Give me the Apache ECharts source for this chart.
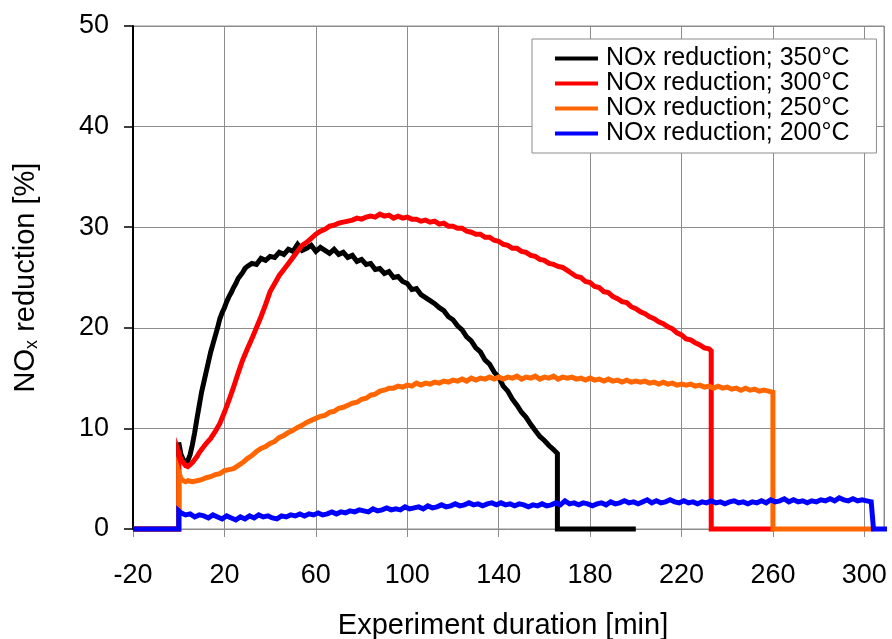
<!DOCTYPE html>
<html>
<head>
<meta charset="utf-8">
<title>NOx reduction vs. experiment duration</title>
<script src="https://cdn.jsdelivr.net/npm/echarts@6/dist/echarts.min.js"></script>
<style>
  html, body { margin: 0; padding: 0; background: #ffffff; }
  #chart { width: 892px; height: 639px; }
</style>
</head>
<body>
<div id="chart"></div>
<script>
// Measured NOx reduction [%] over experiment duration [min], one trace per temperature.
const seriesNames = ['NOx reduction; 350°C', 'NOx reduction; 300°C', 'NOx reduction; 250°C', 'NOx reduction; 200°C'];
const seriesColors = ['#000000', '#ff0000', '#ff6600', '#0000ff'];

const nox350 = [
  [-20,0],[0,0],[0,8.6],[1,7.4],[2,6.9],[3,6.6],[4,6.8],[5,7.4],[6,8.4],[7,9.6],[8,11.0],[9,12.3],
  [10,13.6],[11,14.6],[12,15.6],[13,16.6],[14,17.6],[15,18.4],[16,19.2],[17,20.0],[18,20.9],[19,21.5],
  [20,22.0],[21,22.6],[22,23.1],[23,23.5],[24,24.0],[25,24.4],[26,24.9],[27,25.2],[28,25.5],[29,25.9],
  [30,26.1],[32,26.4],[34,26.3],[36,26.9],[38,26.7],[40,27.1],[42,27.0],[44,27.5],[46,27.3],[48,27.8],
  [50,27.6],[52,28.3],[54,27.7],[56,27.9],[58,28.2],[60,27.6],[62,28.0],[64,27.7],[66,27.4],[68,27.8],
  [70,27.3],[72,27.5],[74,27.0],[76,27.2],[78,26.6],[80,26.8],[82,26.3],[84,26.4],[86,25.8],[88,25.9],
  [90,25.4],[92,25.6],[94,25.0],[96,25.1],[98,24.6],[100,24.4],[102,23.8],[104,23.9],[106,23.3],[108,23.0],
  [110,22.7],[112,22.4],[114,22.0],[116,21.7],[118,21.1],[120,20.8],[122,20.2],[124,19.8],[126,19.1],
  [128,18.7],[130,18.0],[132,17.6],[134,16.8],[136,16.4],[138,15.6],[140,15.1],[142,14.2],[144,13.7],
  [146,12.9],[148,12.3],[150,11.6],[152,11.1],[154,10.4],[156,9.8],[158,9.2],[160,8.8],[162,8.3],
  [164,7.9],[165.7,7.5],[165.7,0],[200,0]
];

const nox300 = [
  [-20,0],[0,0],[0,7.6],[1,6.9],[2,6.6],[3,6.3],[4,6.2],[5,6.4],[6,6.6],[7,6.9],[8,7.2],[9,7.6],
  [10,7.9],[12,8.5],[14,9.0],[16,9.7],[18,10.5],[20,11.6],[22,12.8],[24,14.1],[26,15.5],[28,16.8],
  [30,17.9],[32,18.9],[34,20.0],[36,21.1],[38,22.3],[40,23.6],[42,24.4],[44,25.2],[46,25.8],[48,26.4],
  [50,27.0],[52,27.6],[54,28.2],[56,28.5],[58,28.9],[60,29.3],[62,29.6],[64,29.8],[66,30.1],[68,30.2],
  [70,30.4],[72,30.5],[74,30.6],[76,30.7],[78,30.9],[80,30.8],[82,31.0],[84,31.1],[86,31.0],[88,31.3],
  [90,31.1],[92,31.2],[94,30.9],[96,31.1],[98,30.9],[100,31.0],[102,30.8],[104,30.8],[106,30.6],[108,30.7],
  [110,30.5],[112,30.6],[114,30.3],[116,30.4],[118,30.1],[120,30.1],[122,29.9],[124,29.9],[126,29.6],
  [128,29.5],[130,29.3],[132,29.3],[134,29.0],[136,29.0],[138,28.7],[140,28.6],[142,28.3],[144,28.2],
  [146,27.9],[148,27.9],[150,27.6],[152,27.5],[154,27.2],[156,27.1],[158,26.8],[160,26.7],[162,26.4],
  [164,26.3],[166,26.1],[168,26.0],[170,25.7],[172,25.4],[174,25.1],[176,25.0],[178,24.6],[180,24.5],
  [182,24.1],[184,24.0],[186,23.6],[188,23.5],[190,23.1],[192,22.9],[194,22.6],[196,22.5],[198,22.1],
  [200,21.9],[202,21.6],[204,21.4],[206,21.1],[208,20.9],[210,20.6],[212,20.4],[214,20.1],[216,19.9],
  [218,19.5],[220,19.3],[222,18.9],[224,18.8],[226,18.5],[228,18.3],[230,18.0],[232,17.9],[233,17.7],
  [233,0],[260,0]
];

const nox250 = [
  [-20,0],[0,0],[0,5.7],[1,5.0],[2,4.8],[3,4.7],[4,4.8],[6,4.7],[8,4.8],[10,4.9],[12,5.1],[14,5.2],
  [16,5.4],[18,5.5],[20,5.8],[22,5.9],[24,6.0],[26,6.3],[28,6.6],[30,7.0],[32,7.3],[34,7.7],[36,8.0],
  [38,8.2],[40,8.5],[42,8.7],[44,9.1],[46,9.3],[48,9.6],[50,9.8],[52,10.1],[54,10.3],[56,10.6],[58,10.8],
  [60,11.0],[62,11.2],[64,11.3],[66,11.6],[68,11.7],[70,12.0],[72,12.1],[74,12.3],[76,12.5],[78,12.6],
  [80,12.9],[82,13.0],[84,13.3],[86,13.4],[88,13.7],[90,13.8],[92,14.0],[94,14.0],[96,14.2],[98,14.1],
  [100,14.3],[102,14.2],[104,14.5],[106,14.3],[108,14.5],[110,14.4],[112,14.6],[114,14.5],[116,14.7],
  [118,14.6],[120,14.8],[122,14.7],[124,14.9],[126,14.7],[128,15.0],[130,14.8],[132,15.0],[134,14.9],
  [136,15.1],[138,14.9],[140,15.1],[142,14.9],[144,15.1],[146,15.0],[148,15.2],[150,14.9],[152,15.1],
  [154,15.0],[156,15.2],[158,14.9],[160,15.1],[162,15.0],[164,15.2],[166,14.9],[168,15.1],[170,15.0],
  [172,15.1],[174,14.9],[176,15.0],[178,14.8],[180,15.0],[182,14.8],[184,14.9],[186,14.7],[188,14.9],
  [190,14.7],[192,14.8],[194,14.6],[196,14.8],[198,14.6],[200,14.7],[202,14.6],[204,14.7],[206,14.5],
  [208,14.6],[210,14.4],[212,14.6],[214,14.4],[216,14.5],[218,14.3],[220,14.4],[222,14.3],[224,14.4],
  [226,14.2],[228,14.3],[230,14.1],[232,14.2],[234,14.0],[236,14.2],[238,14.0],[240,14.1],[242,13.9],
  [244,14.0],[246,13.8],[248,14.0],[250,13.8],[252,13.9],[254,13.7],[256,13.8],[258,13.7],[260,13.6],
  [260,0],[304,0]
];

const nox200 = [
  [-20,0],[0,0],[0,1.8],[1,1.6],[3,1.4],[5,1.5],[7,1.2],[9,1.4],[11,1.3],[13,1.1],[15,1.4],[17,1.2],
  [19,1.0],[21,1.3],[23,1.1],[25,0.9],[27,1.2],[29,1.0],[31,1.3],[33,1.1],[35,1.4],[37,1.2],[39,1.3],
  [41,1.1],[43,1.0],[45,1.3],[47,1.2],[49,1.4],[51,1.3],[53,1.5],[55,1.3],[57,1.5],[59,1.4],[61,1.6],
  [63,1.4],[65,1.5],[67,1.7],[69,1.5],[71,1.7],[73,1.6],[75,1.8],[77,1.7],[79,1.9],[81,1.8],[83,1.7],
  [85,2.0],[87,1.8],[89,1.9],[91,2.1],[93,1.9],[95,2.0],[97,1.9],[99,2.2],[101,2.0],[103,2.1],[105,2.2],
  [107,2.0],[109,2.3],[111,2.1],[113,2.2],[115,2.4],[117,2.2],[119,2.3],[121,2.5],[123,2.3],[125,2.4],
  [127,2.6],[129,2.4],[131,2.5],[133,2.3],[135,2.5],[137,2.6],[139,2.4],[141,2.6],[143,2.4],[145,2.5],
  [147,2.3],[149,2.5],[151,2.4],[153,2.2],[155,2.4],[157,2.3],[159,2.5],[161,2.3],[163,2.4],[165,2.6],
  [167,2.4],[169,2.8],[171,2.5],[173,2.6],[175,2.4],[177,2.6],[179,2.5],[181,2.3],[183,2.5],[185,2.6],
  [187,2.4],[189,2.7],[191,2.5],[193,2.6],[195,2.8],[197,2.6],[199,2.7],[201,2.5],[203,2.7],[205,2.9],
  [207,2.6],[209,2.8],[211,2.6],[213,2.7],[215,2.9],[217,2.7],[219,2.6],[221,2.8],[223,2.6],[225,2.7],
  [227,2.5],[229,2.7],[231,2.6],[233,2.8],[235,2.6],[237,2.7],[239,2.5],[241,2.7],[243,2.8],[245,2.6],
  [247,2.7],[249,2.5],[251,2.7],[253,2.6],[255,2.8],[257,2.6],[259,2.9],[261,2.7],[263,2.8],[265,3.0],
  [267,2.7],[269,2.9],[271,2.7],[273,2.8],[275,2.6],[277,2.8],[279,2.7],[281,2.9],[283,2.8],[285,3.0],
  [287,2.8],[289,3.1],[291,2.9],[293,2.8],[295,3.0],[297,2.8],[299,2.9],[301,2.8],[303,2.7],[304,0],
  [310.5,0]
];

const seriesData = [nox350, nox300, nox250, nox200];

const FONT = "'Liberation Sans', Arial, Helvetica, sans-serif";
const chart = echarts.init(document.getElementById('chart'), null, { renderer: 'canvas' });

chart.setOption({
  animation: false,
  backgroundColor: '#ffffff',
  textStyle: { fontFamily: FONT },
  grid: {
    left: 133, right: 8, top: 26, bottom: 110,
    outerBoundsMode: 'none',
    containLabel: false,
    show: true, borderColor: '#8c8c8c', borderWidth: 1, backgroundColor: '#ffffff'
  },
  legend: {
    data: seriesNames,
    orient: 'vertical',
    left: 532, top: 39,
    icon: 'rect',
    itemWidth: 43, itemHeight: 4,
    itemGap: 0,
    padding: [7, 27, 7, 23],
    backgroundColor: '#ffffff',
    borderColor: '#8c8c8c', borderWidth: 1,
    textStyle: { fontFamily: FONT, fontSize: 25, color: '#000', lineHeight: 25, padding: [0, 0, 0, 3] }
  },
  xAxis: {
    type: 'value',
    min: -20, max: 308.6, interval: 40,
    name: 'Experiment duration [min]',
    nameLocation: 'middle',
    nameGap: 82,
    nameTextStyle: { fontFamily: FONT, fontSize: 29, color: '#000', padding: [0, 11, 0, 0] },
    axisLine: { show: true, onZero: false, lineStyle: { color: '#8c8c8c', width: 1 } },
    axisTick: { show: true, length: 8, lineStyle: { color: '#8c8c8c', width: 1 } },
    axisLabel: { fontFamily: FONT, fontSize: 27, color: '#000', margin: 33, showMaxLabel: false },
    splitLine: { show: true, lineStyle: { color: '#8c8c8c', width: 1 } }
  },
  yAxis: {
    type: 'value',
    min: 0, max: 50, interval: 10,
    name: '{a|NO}{b|x}{a| reduction [%]}',
    nameLocation: 'middle',
    nameGap: 92,
    nameTextStyle: {
      fontFamily: FONT, color: '#000',
      rich: {
        a: { fontFamily: FONT, fontSize: 29, lineHeight: 30, color: '#000' },
        b: { fontFamily: FONT, fontSize: 18, lineHeight: 18, color: '#000', verticalAlign: 'bottom', padding: [12, 0, 0, 0] }
      }
    },
    axisLine: { show: true, onZero: false, lineStyle: { color: '#000', width: 2 } },
    axisTick: { show: true, length: 9, lineStyle: { color: '#000', width: 1.5 } },
    axisLabel: { fontFamily: FONT, fontSize: 27, color: '#000', margin: 24 },
    splitLine: { show: true, lineStyle: { color: '#8c8c8c', width: 1 } }
  },
  series: seriesNames.map((name, i) => ({
    name: name,
    type: 'line',
    data: seriesData[i],
    showSymbol: false,
    symbol: 'none',
    clip: false,
    color: seriesColors[i],
    lineStyle: { color: seriesColors[i], width: 5, join: 'miter' },
    emphasis: { disabled: true }
  }))
});
</script>
</body>
</html>
